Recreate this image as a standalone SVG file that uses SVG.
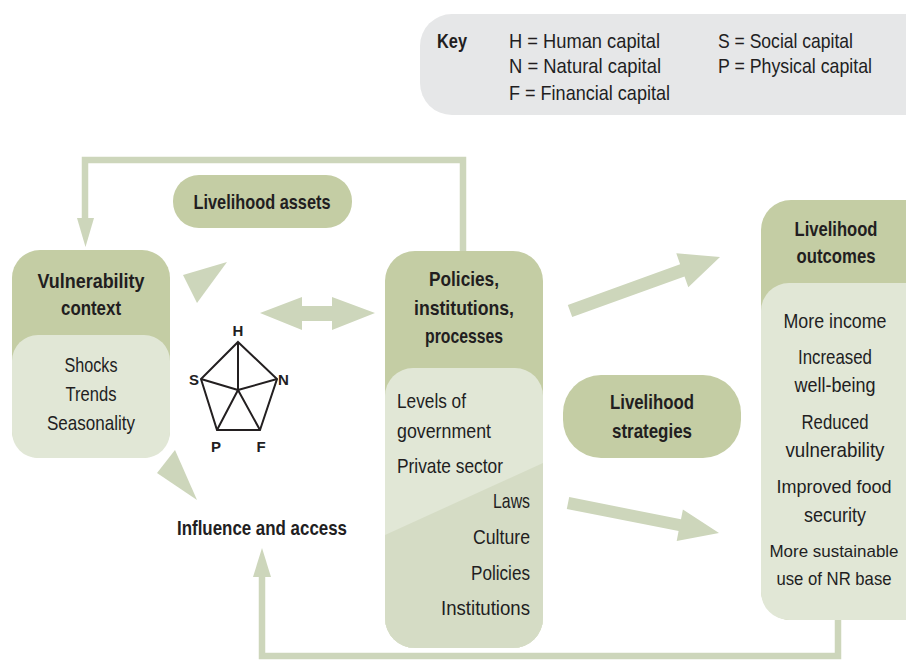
<svg xmlns="http://www.w3.org/2000/svg" width="906" height="660" viewBox="0 0 906 660">
<style>
text{font-family:"Liberation Sans",Arial,sans-serif;fill:#221e1f;font-size:21px}
.b{font-weight:bold}
.m{text-anchor:middle}
.e{text-anchor:end}
.s{font-size:18.5px}
.xs{font-size:17px}
.hd{fill:#c4cda4}
.lt{fill:#e1e7d6}
.dk{fill:#d5dcc5}
.ar{fill:#cdd6bb}
.ln{fill:none;stroke:#cdd6bb;stroke-width:6.5}
.pl{fill:none;stroke:#231f20;stroke-width:2}
.pt{font-size:15px;font-weight:bold}
</style>
<defs>
<clipPath id="cpPol"><rect x="385" y="251" width="158" height="397" rx="30"/></clipPath>
</defs>
<rect width="906" height="660" fill="#fff"/>

<g id="key">
<rect x="420" y="14" width="520" height="101" rx="32" fill="#e6e7e8"/>
<text class="b" x="437" y="48" textLength="30" lengthAdjust="spacingAndGlyphs">Key</text>
<text x="509" y="48" textLength="151" lengthAdjust="spacingAndGlyphs">H = Human capital</text>
<text x="509" y="73" textLength="152" lengthAdjust="spacingAndGlyphs">N = Natural capital</text>
<text x="509" y="100" textLength="161" lengthAdjust="spacingAndGlyphs">F = Financial capital</text>
<text x="718" y="48" textLength="135" lengthAdjust="spacingAndGlyphs">S = Social capital</text>
<text x="718" y="73" textLength="154" lengthAdjust="spacingAndGlyphs">P = Physical capital</text>
</g>

<g id="connectors">
<polyline class="ln" points="463,251 463,160 85,160 85,220"/>
<polygon class="ar" points="77,218 94,218 85.5,247"/>
<polyline class="ln" points="838,619 838,656 262,656 262,575"/>
<polygon class="ar" points="253,577 271,577 262,548"/>
<polygon class="ar" points="183,275 227,262 197,303"/>
<polygon class="ar" points="175,450 157,473 197,500"/>
<polygon class="ar" points="260,313 302,297 302,306 332,306 332,297 375,313 332,330 332,321 302,321 302,330"/>
<polygon class="ar" points="567.8,304.9 680.1,264.2 676.3,253.3 720,257 688.3,287.3 684.5,276.4 572.2,317.1"/>
<polygon class="ar" points="569.2,497.1 681,519.3 682.9,509.5 719,533 676.7,540.9 678.6,531.1 566.8,508.9"/>
</g>

<g id="vulnerability">
<rect class="hd" x="12" y="250" width="158" height="208" rx="28"/>
<rect class="lt" x="12" y="335" width="158" height="123" rx="26"/>
<text class="b m" x="91" y="288" textLength="107" lengthAdjust="spacingAndGlyphs">Vulnerability</text>
<text class="b m" x="91" y="315" textLength="60" lengthAdjust="spacingAndGlyphs">context</text>
<text class="m" x="91" y="372" textLength="53" lengthAdjust="spacingAndGlyphs">Shocks</text>
<text class="m" x="91" y="401" textLength="51" lengthAdjust="spacingAndGlyphs">Trends</text>
<text class="m" x="91" y="430" textLength="88" lengthAdjust="spacingAndGlyphs">Seasonality</text>
</g>

<g id="assets">
<rect class="hd" x="173" y="175" width="179" height="53" rx="26"/>
<text class="b m" x="262" y="209" textLength="137" lengthAdjust="spacingAndGlyphs">Livelihood assets</text>
</g>

<g id="pentagon">
<polygon class="pl" points="238,342 277,379 260,430 217,430 201,379"/>
<path class="pl" d="M238,390L238,342M238,390L277,379M238,390L260,430M238,390L217,430M238,390L201,379"/>
<text class="pt m" x="238" y="336">H</text>
<text class="pt e" x="199" y="385">S</text>
<text class="pt" x="278" y="385">N</text>
<text class="pt m" x="216" y="452">P</text>
<text class="pt m" x="261" y="452">F</text>
</g>

<g id="influence">
<text class="b" x="177" y="535" textLength="170" lengthAdjust="spacingAndGlyphs">Influence and access</text>
</g>

<g id="policies">
<rect class="hd" x="385" y="251" width="158" height="397" rx="30"/>
<g clip-path="url(#cpPol)">
<rect class="lt" x="385" y="368" width="158" height="300" rx="28"/>
<polygon class="dk" points="385,535 543,463 543,660 385,660"/>
</g>
<text class="b m" x="464" y="286" textLength="70" lengthAdjust="spacingAndGlyphs">Policies,</text>
<text class="b m" x="464" y="315" textLength="100" lengthAdjust="spacingAndGlyphs">institutions,</text>
<text class="b m" x="464" y="343" textLength="78" lengthAdjust="spacingAndGlyphs">processes</text>
<text x="397" y="408" textLength="69" lengthAdjust="spacingAndGlyphs">Levels of</text>
<text x="397" y="438" textLength="94" lengthAdjust="spacingAndGlyphs">government</text>
<text x="397" y="473" textLength="106" lengthAdjust="spacingAndGlyphs">Private sector</text>
<text class="e" x="530" y="508" textLength="37" lengthAdjust="spacingAndGlyphs">Laws</text>
<text class="e" x="530" y="544" textLength="57" lengthAdjust="spacingAndGlyphs">Culture</text>
<text class="e" x="530" y="580" textLength="59" lengthAdjust="spacingAndGlyphs">Policies</text>
<text class="e" x="530" y="615" textLength="89" lengthAdjust="spacingAndGlyphs">Institutions</text>
</g>

<g id="strategies">
<rect class="hd" x="563" y="375" width="178" height="83" rx="38"/>
<text class="b m" x="652" y="409" textLength="84" lengthAdjust="spacingAndGlyphs">Livelihood</text>
<text class="b m" x="652" y="438" textLength="80" lengthAdjust="spacingAndGlyphs">strategies</text>
</g>

<g id="outcomes">
<rect class="hd" x="761" y="200" width="175" height="420" rx="30"/>
<rect class="lt" x="761" y="283" width="175" height="337" rx="28"/>
<text class="b m" x="836" y="236" textLength="83" lengthAdjust="spacingAndGlyphs">Livelihood</text>
<text class="b m" x="836" y="263" textLength="79" lengthAdjust="spacingAndGlyphs">outcomes</text>
<text class="m" x="835" y="328" textLength="103" lengthAdjust="spacingAndGlyphs">More income</text>
<text class="m" x="835" y="364" textLength="74" lengthAdjust="spacingAndGlyphs">Increased</text>
<text class="m" x="835" y="392" textLength="81" lengthAdjust="spacingAndGlyphs">well-being</text>
<text class="m" x="835" y="429" textLength="67" lengthAdjust="spacingAndGlyphs">Reduced</text>
<text class="m" x="835" y="457" textLength="99" lengthAdjust="spacingAndGlyphs">vulnerability</text>
<text class="m s" x="834" y="493" textLength="115" lengthAdjust="spacingAndGlyphs">Improved food</text>
<text class="m" x="835" y="522" textLength="62" lengthAdjust="spacingAndGlyphs">security</text>
<text class="m xs" x="834" y="557" textLength="129" lengthAdjust="spacingAndGlyphs">More sustainable</text>
<text class="m s" x="834" y="585" textLength="115" lengthAdjust="spacingAndGlyphs">use of NR base</text>
</g>
</svg>
